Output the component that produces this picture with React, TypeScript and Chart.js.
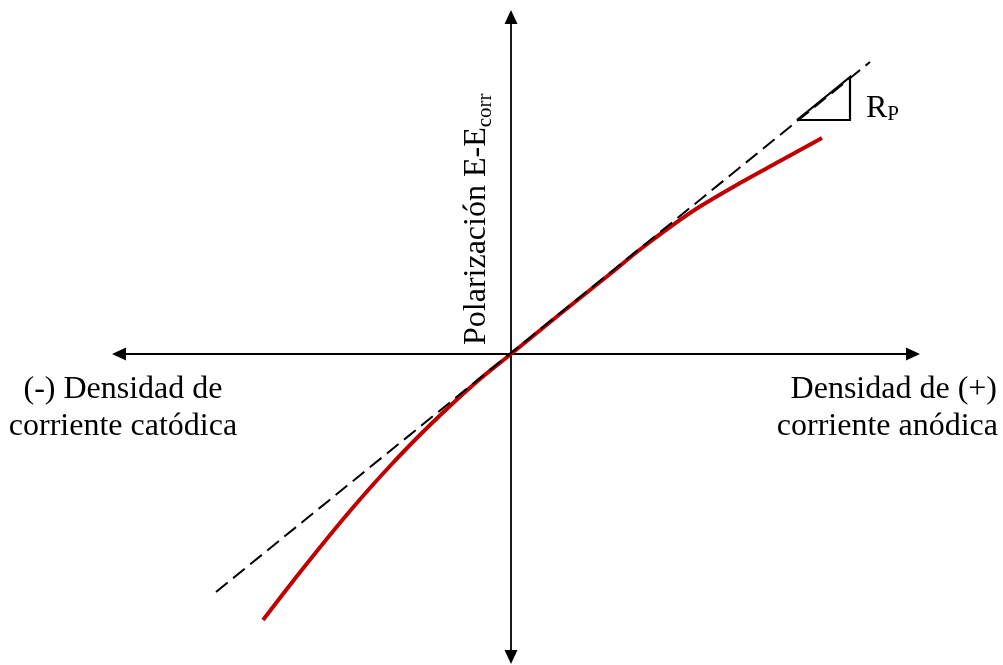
import React, { useEffect, useRef } from "react";
import { Chart, registerables } from "chart.js";

Chart.register(...registerables);

// Current density (arbitrary units) and polarization E-Ecorr (arbitrary units)
const currentDensity = [-2.48, -2.28, -2.08, -1.81, -1.61, -1.41, -1.21, -1.01, -0.81, -0.61, -0.31, 0, 0.49, 0.99, 1.29, 1.59, 1.89, 2.29, 2.69, 3.11];
const polarization = [-2.66, -2.4, -2.145, -1.81, -1.57, -1.34, -1.12, -0.91, -0.71, -0.52, -0.25, 0, 0.4, 0.8, 1.045, 1.27, 1.475, 1.71, 1.93, 2.16];

// Tangent line (slope = Rp)
const tangentX = [-2.95, 3.59];
const tangentY = [-2.38, 2.92];

// Slope triangle
const triangleX = [2.86, 3.39, 3.39, 2.86];
const triangleY = [2.34, 2.34, 2.77, 2.34];

// Axis extents
const axisXRange = [-3.99, 4.09];
const axisYRange = [-3.1, 3.44];
const viewX = [-5.11, 4.92];
const viewY = [-3.11, 3.54];

const leftLabel = ["(-) Densidad de", "corriente catódica"];
const rightLabel = ["Densidad de (+)", "corriente anódica"];
const yTitleMain = "Polarización E-E";
const yTitleSub = "corr";
const rpMain = "R";
const rpSub = "P";

const FONT = '"Liberation Serif", "Times New Roman", serif';

const toPoints = (xs: number[], ys: number[]) => xs.map((x, i) => ({ x, y: ys[i] }));

const decorPlugin = {
  id: "decor",
  beforeDatasetsDraw(chart: any) {
    const { ctx, scales } = chart;
    const xs = scales.x;
    const ys = scales.y;
    const ox = xs.getPixelForValue(0);
    const oy = ys.getPixelForValue(0);
    const x0 = xs.getPixelForValue(axisXRange[0]);
    const x1 = xs.getPixelForValue(axisXRange[1]);
    const yTop = ys.getPixelForValue(axisYRange[1]);
    const yBot = ys.getPixelForValue(axisYRange[0]);
    const ah = 14;
    const aw = 6.5;
    ctx.save();
    ctx.strokeStyle = "#000";
    ctx.fillStyle = "#000";
    ctx.lineWidth = 1.8;
    ctx.beginPath();
    ctx.moveTo(x0 + ah - 2, oy);
    ctx.lineTo(x1 - ah + 2, oy);
    ctx.moveTo(ox, yTop + ah - 2);
    ctx.lineTo(ox, yBot - ah + 2);
    ctx.stroke();
    const tri = (pts: number[][]) => {
      ctx.beginPath();
      ctx.moveTo(pts[0][0], pts[0][1]);
      ctx.lineTo(pts[1][0], pts[1][1]);
      ctx.lineTo(pts[2][0], pts[2][1]);
      ctx.closePath();
      ctx.fill();
    };
    tri([[x0, oy], [x0 + ah, oy - aw], [x0 + ah, oy + aw]]);
    tri([[x1, oy], [x1 - ah, oy - aw], [x1 - ah, oy + aw]]);
    tri([[ox, yTop], [ox - aw, yTop + ah], [ox + aw, yTop + ah]]);
    tri([[ox, yBot], [ox - aw, yBot - ah], [ox + aw, yBot - ah]]);

    ctx.font = `32px ${FONT}`;
    ctx.textBaseline = "alphabetic";
    ctx.textAlign = "center";
    ctx.fillText(leftLabel[0], 123, oy + 44);
    ctx.fillText(leftLabel[1], 123, oy + 81);
    ctx.textAlign = "right";
    ctx.fillText(rightLabel[0], 997, oy + 44);
    ctx.fillText(rightLabel[1], 998, oy + 81);

    ctx.save();
    ctx.translate(ox - 26, oy - 9);
    ctx.rotate(-Math.PI / 2);
    ctx.textAlign = "left";
    ctx.font = `32px ${FONT}`;
    ctx.fillText(yTitleMain, 0, 0);
    const w = ctx.measureText(yTitleMain).width;
    ctx.font = `21px ${FONT}`;
    ctx.fillText(yTitleSub, w, 6);
    ctx.restore();

    const rx = xs.getPixelForValue(triangleX[1]) + 16;
    const ry = ys.getPixelForValue(triangleY[0]) - 3;
    ctx.textAlign = "left";
    ctx.font = `32px ${FONT}`;
    ctx.fillText(rpMain, rx, ry);
    const rw = ctx.measureText(rpMain).width;
    ctx.font = `21px ${FONT}`;
    ctx.fillText(rpSub, rx + rw, ry + 3);
    ctx.restore();
  },
};

export default function App() {
  const ref = useRef<HTMLCanvasElement | null>(null);
  useEffect(() => {
    if (!ref.current) return;
    const chart = new Chart(ref.current, {
      type: "scatter",
      data: {
        datasets: [
          {
            data: toPoints(tangentX, tangentY),
            showLine: true,
            borderColor: "#000",
            borderWidth: 2,
            borderDash: [15, 7],
            pointRadius: 0,
            borderCapStyle: "butt",
          },
          {
            data: toPoints(triangleX, triangleY),
            showLine: true,
            borderColor: "#000",
            borderWidth: 2.2,
            pointRadius: 0,
            borderJoinStyle: "miter",
          },
          {
            data: toPoints(currentDensity, polarization),
            showLine: true,
            borderColor: "#C00000",
            borderWidth: 4,
            pointRadius: 0,
            tension: 0.4,
            borderCapStyle: "butt",
          },
        ],
      },
      options: {
        animation: false,
        responsive: false,
        devicePixelRatio: 1,
        layout: { padding: 0 },
        plugins: { legend: { display: false }, tooltip: { enabled: false } },
        scales: {
          x: { type: "linear", display: false, min: viewX[0], max: viewX[1] },
          y: { type: "linear", display: false, min: viewY[0], max: viewY[1] },
        },
      },
      plugins: [decorPlugin],
    } as any);
    return () => chart.destroy();
  }, []);
  return (
    <div style={{ position: "absolute", left: 0, top: 0, width: 1003, height: 665, background: "#fff" }}>
      <canvas ref={ref} width={1003} height={665} />
    </div>
  );
}
